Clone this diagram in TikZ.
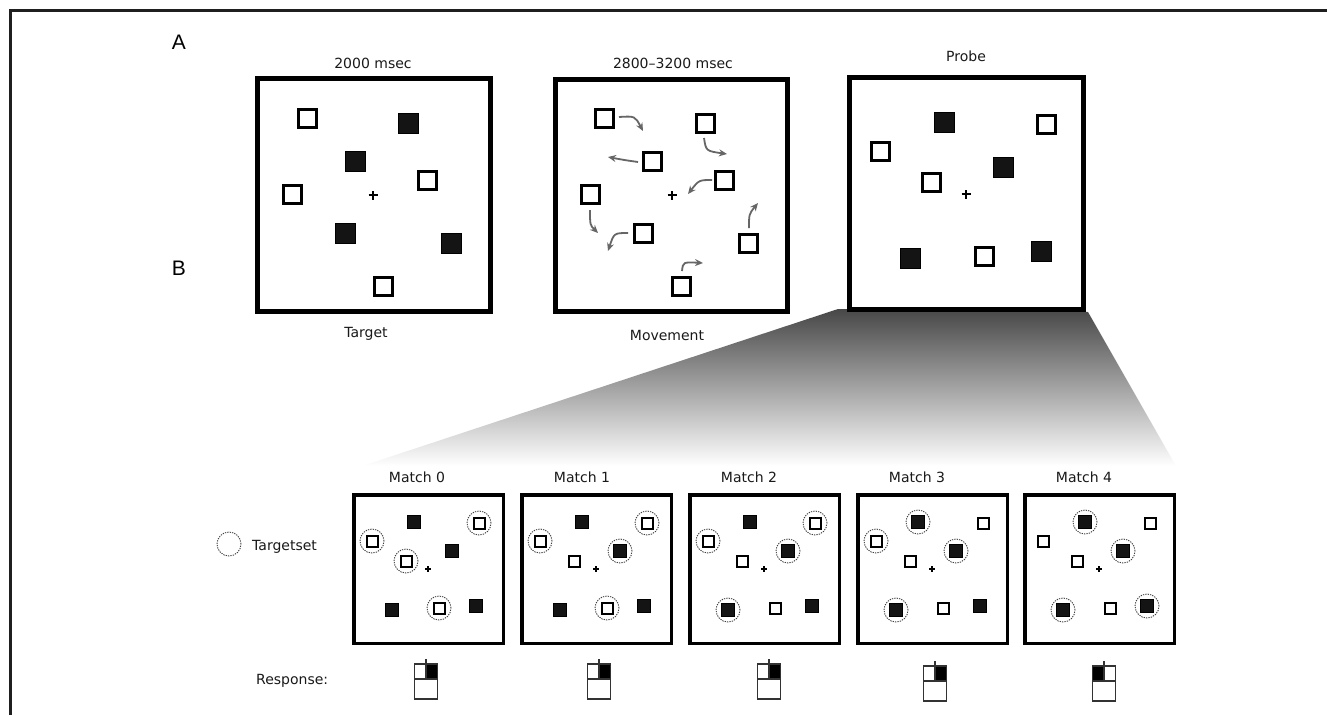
\documentclass[tikz,border=0pt]{standalone}
\usepackage{fontspec}
\setmainfont{DejaVu Sans}
\newfontfamily\panelfont{Liberation Sans}
\usetikzlibrary{arrows.meta}
\begin{document}
\begin{tikzpicture}[x=1pt,y=-1pt,
  txt/.style={font=\fontsize{14}{16}\selectfont, inner sep=0pt, text=black!90},
  plab/.style={font=\panelfont\fontsize{21}{24}\selectfont, inner sep=0pt},
  abox/.style={draw, line width=5pt, fill=white, inner sep=0pt},
  bbox/.style={draw, line width=3.5pt, fill=white, inner sep=0pt, minimum width=149.5pt, minimum height=148.5pt},
  aos/.style={draw, line width=3pt, fill=white, inner sep=0pt, minimum size=18pt},
  afs/.style={draw, line width=1pt, fill=black!92, inner sep=0pt, minimum size=20pt},
  bos/.style={draw, line width=2pt, fill=white, inner sep=0pt, minimum size=11pt},
  bfs/.style={draw, line width=1pt, fill=black!92, inner sep=0pt, minimum size=13pt},
  tc/.style={draw=black!75, circle, line width=0.9pt, dash pattern=on 1.3pt off 1.1pt, inner sep=0pt, minimum size=24pt},
  mv/.style={draw=black!60, line width=1.8pt, -{Stealth[length=8pt,width=7pt]}},
  apl/.style={line width=1.8pt},
  bpl/.style={line width=1.1pt},
  ico/.style={draw=black!80, line width=1.2pt},
  frame/.style={draw=black!88, line width=2.5pt}
]
\useasboundingbox (0,0) rectangle (1327,715);
\draw[frame] (10.5,715) -- (10.5,10.5) -- (1327,10.5);

% panel labels
\node[plab] (lA) at (179,42) {A};
\node[plab] (lB) at (179,268) {B};

% gradient (zoom)
\shade[top color=black!72, bottom color=white] (838,309) -- (1088,312) -- (1176,466) -- (362,466) -- cycle;

% ---------- Panel A ----------
\node[abox, minimum width=233pt, minimum height=233pt] (A1) at (374,195) {};
\node[abox, minimum width=232pt, minimum height=232pt] (A2) at (671.5,195.5) {};
\node[abox, minimum width=234pt, minimum height=232pt] (A3) at (966.5,193.5) {};

\node[txt] (h1) at (373,63) {2000 msec};
\node[txt] (h2) at (673,63) {2800–3200 msec};
\node[txt] (h3) at (966,56) {Probe};
\node[txt] (f1) at (366,334) {Target};
\node[txt] (f2) at (667,335) {Movement};

% Target
\node[aos] (t1) at (307,118) {};
\node[afs] (t2) at (408,123) {};
\node[afs] (t3) at (355,161) {};
\node[aos] (t4) at (427,180) {};
\node[aos] (t5) at (292,194) {};
\node[afs] (t6) at (345,233) {};
\node[afs] (t7) at (451,243) {};
\node[aos] (t8) at (383,286) {};
\coordinate (c1) at (373,195);
\draw[apl] ([xshift=-4.5pt]c1) -- ([xshift=4.5pt]c1) ([yshift=-4.5pt]c1) -- ([yshift=4.5pt]c1);

% Movement
\node[aos] (m1) at (604,118) {};
\node[aos] (m2) at (705,123) {};
\node[aos] (m3) at (652,161) {};
\node[aos] (m4) at (724,180) {};
\node[aos] (m5) at (590,194) {};
\node[aos] (m6) at (643,233) {};
\node[aos] (m7) at (748,243) {};
\node[aos] (m8) at (681,286) {};
\coordinate (c2) at (672,195);
\draw[apl] ([xshift=-4.5pt]c2) -- ([xshift=4.5pt]c2) ([yshift=-4.5pt]c2) -- ([yshift=4.5pt]c2);
\draw[mv] (619,117) .. controls (635,116) .. (643,131);
\draw[mv] (704,138) .. controls (706,151) .. (727,154);
\draw[mv] (638,162) .. controls (624,160) .. (608,157);
\draw[mv] (712,180) .. controls (699,180) .. (688,194);
\draw[mv] (590,210) .. controls (590,225) .. (598,233);
\draw[mv] (628,233) .. controls (614,233) .. (608,251);
\draw[mv] (749,228) .. controls (749,214) .. (758,203);
\draw[mv] (682,271) .. controls (683,262) .. (703,263);

% Probe
\node[afs] (p1) at (944,122) {};
\node[aos] (p2) at (1046,124) {};
\node[aos] (p3) at (880,151) {};
\node[afs] (p4) at (1003,167) {};
\node[aos] (p5) at (931,182) {};
\node[afs] (p6) at (910,258) {};
\node[aos] (p7) at (984,256) {};
\node[afs] (p8) at (1041,251) {};
\coordinate (c3) at (966,194);
\draw[apl] ([xshift=-4.5pt]c3) -- ([xshift=4.5pt]c3) ([yshift=-4.5pt]c3) -- ([yshift=4.5pt]c3);

% ---------- Panel B ----------
\node[tc] (leg) at (229,544) {};
\node[txt, anchor=west] (legt) at (252,547) {Targetset};
\node[txt, anchor=west] (resp) at (256,681) {Response:};

% Match 0
\begin{scope}[shift={(352,493)}]
\node[bbox] (B0) at (76.5,76) {};
\node[txt] (L0) at (65,-16) {Match 0};
\node[bfs] (B0a) at (62,29) {};
\node[bos] (B0b) at (127,30) {}; \node[tc] (B0bc) at (B0b) {};
\node[bos] (B0c) at (20,48) {}; \node[tc] (B0cc) at (B0c) {};
\node[bfs] (B0d) at (100,58) {};
\node[bos] (B0e) at (54,68) {}; \node[tc] (B0ec) at (B0e) {};
\node[bfs] (B0f) at (40,117) {};
\node[bos] (B0g) at (87,115) {}; \node[tc] (B0gc) at (B0g) {};
\node[bfs] (B0h) at (124,113) {};
\draw[bpl] (73,76) -- (79,76) (76,73) -- (76,79);
\begin{scope}[shift={(74,171)}]
\fill[black] (0,0) rectangle (11.5,15);
\draw[ico] (-11.5,0) rectangle (11.5,35) (-11.5,15) -- (11.5,15) (0,-5) -- (0,15);
\end{scope}
\end{scope}

% Match 1
\begin{scope}[shift={(520,493)}]
\node[bbox] (B1) at (76.5,76) {};
\node[txt] (L1) at (62,-16) {Match 1};
\node[bfs] (B1a) at (62,29) {};
\node[bos] (B1b) at (127,30) {}; \node[tc] (B1bc) at (B1b) {};
\node[bos] (B1c) at (20,48) {}; \node[tc] (B1cc) at (B1c) {};
\node[bfs] (B1d) at (100,58) {}; \node[tc] (B1dc) at (B1d) {};
\node[bos] (B1e) at (54,68) {};
\node[bfs] (B1f) at (40,117) {};
\node[bos] (B1g) at (87,115) {}; \node[tc] (B1gc) at (B1g) {};
\node[bfs] (B1h) at (124,113) {};
\draw[bpl] (73,76) -- (79,76) (76,73) -- (76,79);
\begin{scope}[shift={(79,171)}]
\fill[black] (0,0) rectangle (11.5,15);
\draw[ico] (-11.5,0) rectangle (11.5,35) (-11.5,15) -- (11.5,15) (0,-5) -- (0,15);
\end{scope}
\end{scope}

% Match 2
\begin{scope}[shift={(688,493)}]
\node[bbox] (B2) at (76.5,76) {};
\node[txt] (L2) at (61,-16) {Match 2};
\node[bfs] (B2a) at (62,29) {};
\node[bos] (B2b) at (127,30) {}; \node[tc] (B2bc) at (B2b) {};
\node[bos] (B2c) at (20,48) {}; \node[tc] (B2cc) at (B2c) {};
\node[bfs] (B2d) at (100,58) {}; \node[tc] (B2dc) at (B2d) {};
\node[bos] (B2e) at (54,68) {};
\node[bfs] (B2f) at (40,117) {}; \node[tc] (B2fc) at (B2f) {};
\node[bos] (B2g) at (87,115) {};
\node[bfs] (B2h) at (124,113) {};
\draw[bpl] (73,76) -- (79,76) (76,73) -- (76,79);
\begin{scope}[shift={(81,171)}]
\fill[black] (0,0) rectangle (11.5,15);
\draw[ico] (-11.5,0) rectangle (11.5,35) (-11.5,15) -- (11.5,15) (0,-5) -- (0,15);
\end{scope}
\end{scope}

% Match 3
\begin{scope}[shift={(856,493)}]
\node[bbox] (B3) at (76.5,76) {};
\node[txt] (L3) at (61,-16) {Match 3};
\node[bfs] (B3a) at (62,29) {}; \node[tc] (B3ac) at (B3a) {};
\node[bos] (B3b) at (127,30) {};
\node[bos] (B3c) at (20,48) {}; \node[tc] (B3cc) at (B3c) {};
\node[bfs] (B3d) at (100,58) {}; \node[tc] (B3dc) at (B3d) {};
\node[bos] (B3e) at (54,68) {};
\node[bfs] (B3f) at (40,117) {}; \node[tc] (B3fc) at (B3f) {};
\node[bos] (B3g) at (87,115) {};
\node[bfs] (B3h) at (124,113) {};
\draw[bpl] (73,76) -- (79,76) (76,73) -- (76,79);
\begin{scope}[shift={(79,173)}]
\fill[black] (0,0) rectangle (11.5,15);
\draw[ico] (-11.5,0) rectangle (11.5,35) (-11.5,15) -- (11.5,15) (0,-5) -- (0,15);
\end{scope}
\end{scope}

% Match 4
\begin{scope}[shift={(1023,493)}]
\node[bbox] (B4) at (76.5,76) {};
\node[txt] (L4) at (61,-16) {Match 4};
\node[bfs] (B4a) at (62,29) {}; \node[tc] (B4ac) at (B4a) {};
\node[bos] (B4b) at (127,30) {};
\node[bos] (B4c) at (20,48) {};
\node[bfs] (B4d) at (100,58) {}; \node[tc] (B4dc) at (B4d) {};
\node[bos] (B4e) at (54,68) {};
\node[bfs] (B4f) at (40,117) {}; \node[tc] (B4fc) at (B4f) {};
\node[bos] (B4g) at (87,115) {};
\node[bfs] (B4h) at (124,113) {}; \node[tc] (B4hc) at (B4h) {};
\draw[bpl] (73,76) -- (79,76) (76,73) -- (76,79);
\begin{scope}[shift={(81,173)}]
\fill[black] (-11.5,0) rectangle (0,15);
\draw[ico] (-11.5,0) rectangle (11.5,35) (-11.5,15) -- (11.5,15) (0,-5) -- (0,15);
\end{scope}
\end{scope}

\end{tikzpicture}
\end{document}
